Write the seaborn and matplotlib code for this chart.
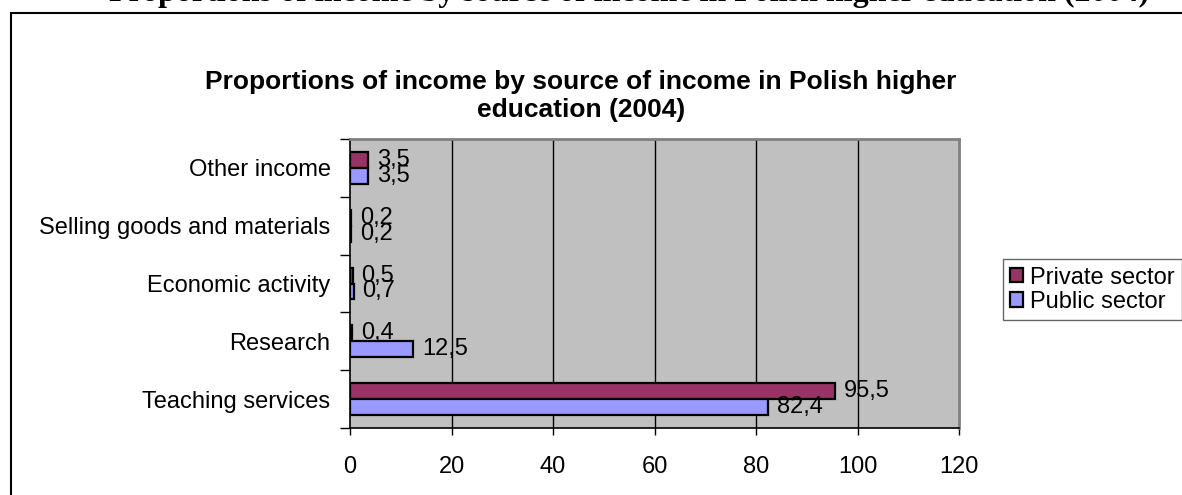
import matplotlib
matplotlib.use("Agg")
import matplotlib.pyplot as plt
import seaborn as sns
import pandas as pd
from matplotlib.patches import Rectangle
from matplotlib.ticker import FixedLocator

categories = ["Other income", "Selling goods and materials", "Economic activity", "Research", "Teaching services"]
private_sector = [3.5, 0.2, 0.5, 0.4, 95.5]
public_sector = [3.5, 0.2, 0.7, 12.5, 82.4]
series_names = ["Private sector", "Public sector"]
x_ticks = [0, 20, 40, 60, 80, 100, 120]
title = "Proportions of income by source of income in Polish higher\neducation (2004)"
doc_heading = "Proportions of income by source of income in Polish higher education (2004)"

df = pd.DataFrame({
    "category": categories * 2,
    "value": private_sector + public_sector,
    "series": [series_names[0]] * len(categories) + [series_names[1]] * len(categories),
})

sns.set_style("white")
plt.rcParams["font.family"] = ["Liberation Sans", "DejaVu Sans"]
plt.rcParams["text.color"] = "black"
plt.rcParams["xtick.color"] = "black"
plt.rcParams["ytick.color"] = "black"
plt.rcParams["axes.labelcolor"] = "black"

W, H = 1182, 495
fig = plt.figure(figsize=(W / 100, H / 100), dpi=100)
ax = fig.add_axes([350 / W, 1 - 428 / H, (959 - 350) / W, (428 - 139) / H])

palette = {"Private sector": "#993366", "Public sector": "#9999FF"}
sns.barplot(data=df, y="category", x="value", hue="series", order=categories,
            hue_order=series_names, palette=palette, orient="h", width=0.55,
            edgecolor="black", linewidth=1.6, saturation=1, ax=ax, legend=True)

ax.set_facecolor("#C0C0C0")
ax.set_xlim(0, 120)
ax.set_ylim(len(categories) - 0.5, -0.5)
ax.set_xticks(x_ticks)
ax.set_xticklabels([str(t) for t in x_ticks], fontsize=17, color="black")
ax.grid(False)
for t in x_ticks[1:-1]:
    ax.axvline(t, color="black", linewidth=1.0, zorder=0.5)
ax.set_axisbelow(True)
ax.set_xlabel("")
ax.set_ylabel("")

ax.set_yticks(range(len(categories)))
ax.set_yticklabels(categories, fontsize=17, color="black")
ax.yaxis.set_minor_locator(FixedLocator([i - 0.5 for i in range(len(categories) + 1)]))
ax.tick_params(axis="y", which="major", length=0, pad=14)
ax.tick_params(axis="y", which="minor", length=7, width=1.0, color="black", direction="out", left=True)
ax.tick_params(axis="x", which="major", length=5, width=1.0, color="black", direction="out", bottom=True, pad=15)

for side in ["left", "bottom"]:
    ax.spines[side].set_color("black")
    ax.spines[side].set_linewidth(1.2)
for side in ["top", "right"]:
    ax.spines[side].set_color("#808080")
    ax.spines[side].set_linewidth(2.0)

for cont in ax.containers:
    labels = [f"{b.get_width():.1f}".replace(".", ",") for b in cont]
    ax.bar_label(cont, labels=labels, padding=6.5, fontsize=17, color="black")

leg = ax.legend(loc="lower left", bbox_to_anchor=(1003 / W, 1 - 320 / H),
                bbox_transform=fig.transFigure, fontsize=17, frameon=True,
                fancybox=False, edgecolor="#404040", handlelength=0.55,
                handleheight=0.55, handletextpad=0.3, borderpad=0.3,
                labelspacing=0.1, borderaxespad=0)
leg.get_frame().set_linewidth(1.0)
for h in leg.legend_handles:
    h.set_edgecolor("black")
    h.set_linewidth(1.6)
for t in leg.get_texts():
    t.set_color("black")

fig.text(581 / W, 1 - 96 / H, title, ha="center", va="center", fontsize=19,
         fontweight="bold", linespacing=1.2, color="black")

fig.patches.append(Rectangle((11 / W, -0.5), 2.0, (1 - 13 / H) + 0.5,
                             transform=fig.transFigure, fill=False,
                             edgecolor="black", linewidth=1.5))

fig.text(109 / W, 1 - 1 / H, doc_heading, ha="left", va="baseline", fontsize=23,
         fontweight="bold", family=["Liberation Serif", "DejaVu Serif"], color="black")

fig.savefig("out.png", dpi=100)
